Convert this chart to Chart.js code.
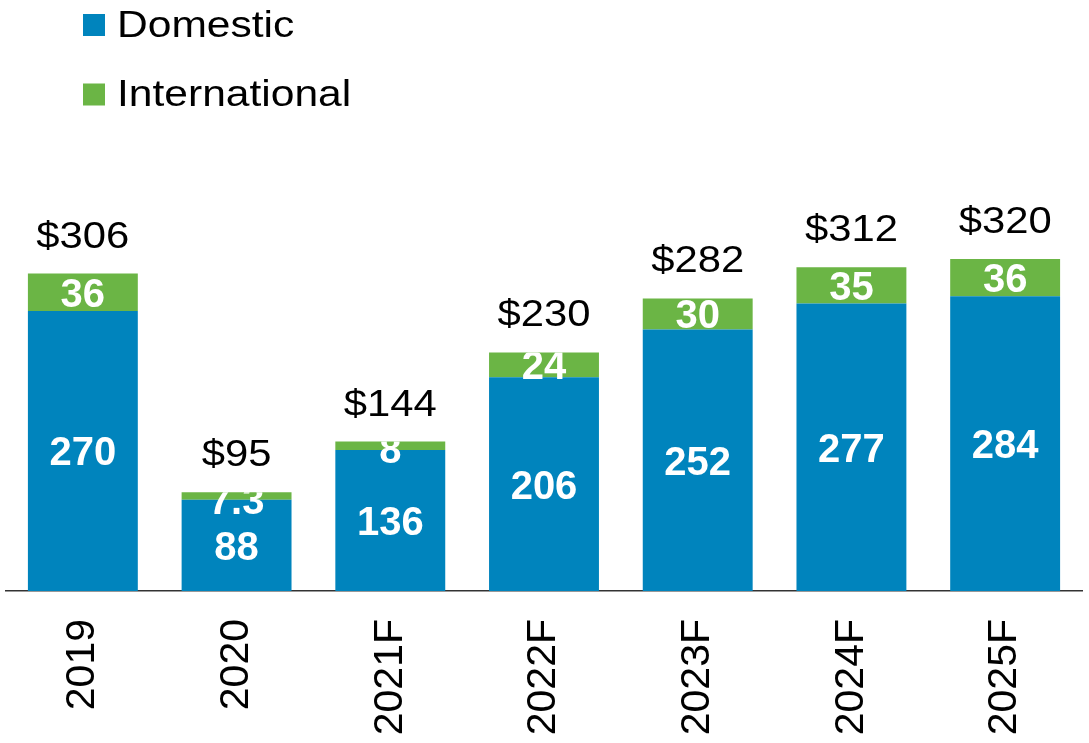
<!DOCTYPE html>
<html>
<head>
<meta charset="utf-8">
<script src="https://cdn.jsdelivr.net/npm/chart.js@4"></script>
<style>
  html, body { margin: 0; padding: 0; background: #fff; }
</style>
</head>
<body>
<canvas id="chart" width="1089" height="743"></canvas>
<script>
const years = ["2019", "2020", "2021F", "2022F", "2023F", "2024F", "2025F"];
const domestic = [270, 88, 136, 206, 252, 277, 284];
const international = [36, 7.3, 8, 24, 30, 35, 36];
const seriesNames = ["Domestic", "International"];
const seriesColors = ["#0084BD", "#6BB545"];

const FONT = '"Liberation Sans", Arial, sans-serif';

// text a bit wider than the font gives, like the original
function wideText(ctx, text, x, y, sx) {
    ctx.save();
    ctx.translate(x, y);
    ctx.scale(sx, 1);
    ctx.fillText(text, 0, 0);
    ctx.restore();
}

// value labels + legend drawn by hand (no datalabels plugin offline)
const barLabels = {
    id: "barLabels",
    afterDatasetsDraw(chart) {
        const ctx = chart.ctx;
        const dom = chart.getDatasetMeta(0).data;
        const intl = chart.getDatasetMeta(1).data;
        ctx.save();
        ctx.textBaseline = "alphabetic";
        dom.forEach((bar, i) => {
            const top = intl[i];
            const base = bar.base;
            const half = bar.width / 2;

            // white numbers inside, clipped to the bar
            ctx.save();
            ctx.beginPath();
            ctx.rect(bar.x - half, top.y, bar.width, base - top.y);
            ctx.clip();
            ctx.fillStyle = "#ffffff";
            ctx.textAlign = "center";
            ctx.font = "bold 40px " + FONT;
            const dMid = (bar.y + base) / 2;
            ctx.fillText(String(domestic[i]), bar.x, dMid + 14.5);
            const iMid = Math.max((top.y + bar.y) / 2, top.y + 7);
            ctx.fillText(String(international[i]), bar.x, iMid + 14.5);
            ctx.restore();

            // totals above
            const total = Math.round(domestic[i] + international[i]);
            ctx.fillStyle = "#000000";
            ctx.textAlign = "center";
            ctx.font = "37px " + FONT;
            wideText(ctx, "$" + total, bar.x, top.y - 26, 1.13);
        });

        // legend, stacked top-left
        ctx.textAlign = "left";
        ctx.font = "37px " + FONT;
        seriesNames.forEach((name, k) => {
            const y0 = 14 + k * 69.5;
            ctx.fillStyle = seriesColors[k];
            ctx.fillRect(83, y0, 22, 22);
            ctx.fillStyle = "#000000";
            wideText(ctx, name, 117, y0 + 22.7, 1.15);
        });
        ctx.restore();
    }
};

new Chart(document.getElementById("chart").getContext("2d"), {
    type: "bar",
    data: {
        labels: years,
        datasets: [{
            label: seriesNames[0],
            data: domestic,
            backgroundColor: seriesColors[0],
            barPercentage: 0.715,
            categoryPercentage: 1
        }, {
            label: seriesNames[1],
            data: international,
            backgroundColor: seriesColors[1],
            barPercentage: 0.715,
            categoryPercentage: 1
        }]
    },
    options: {
        responsive: false,
        animation: false,
        layout: { padding: { left: 6, right: 7, top: 176, bottom: 0 } },
        plugins: { legend: { display: false }, tooltip: { enabled: false } },
        scales: {
            x: {
                stacked: true,
                grid: { display: false, drawTicks: false },
                border: { display: true, color: "#333333", width: 1.5 },
                ticks: {
                    color: "#000000",
                    font: { family: FONT, size: 41 },
                    minRotation: 90,
                    maxRotation: 90,
                    padding: 28
                },
                afterFit(scale) { scale.height = 152; }
            },
            y: {
                stacked: true,
                display: false,
                min: 0,
                max: 400
            }
        }
    },
    plugins: [barLabels]
});
</script>
</body>
</html>
